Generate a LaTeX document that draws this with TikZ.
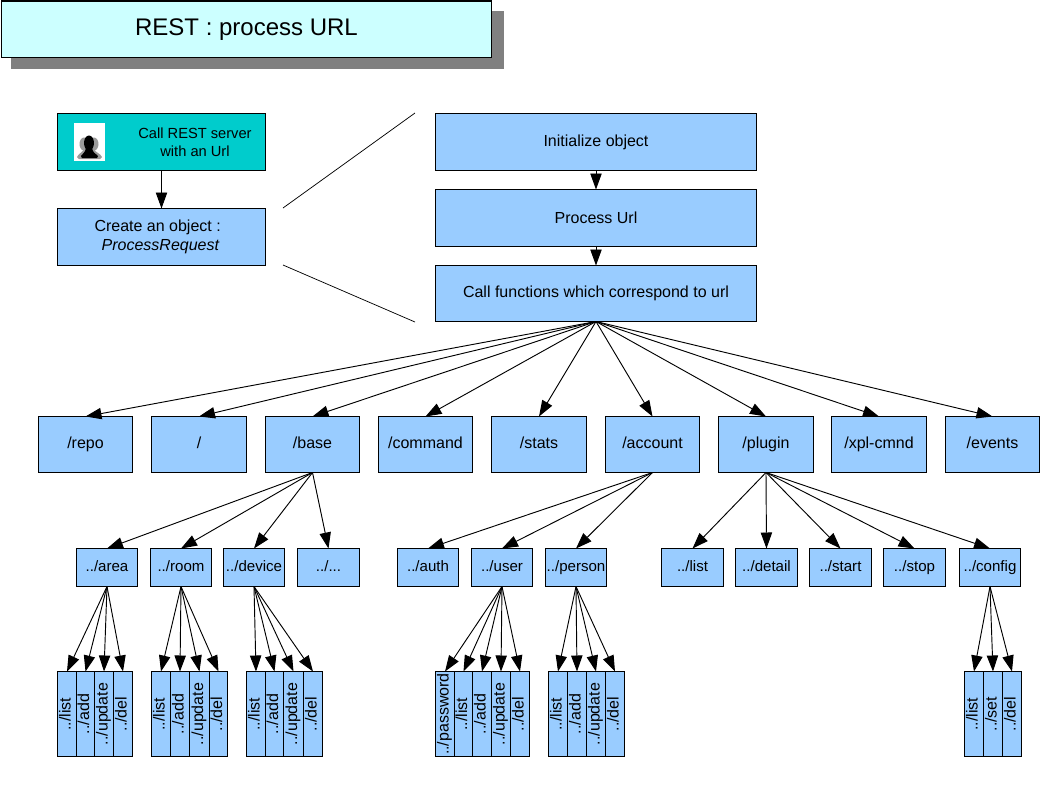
\documentclass[tikz,border=0pt]{standalone}
\usepackage{fontspec}
\setmainfont{Liberation Sans}
\usetikzlibrary{arrows.meta}
\definecolor{boxblue}{HTML}{99CCFF}
\definecolor{boxteal}{HTML}{00CCCC}
\definecolor{boxcyan}{HTML}{CCFFFF}
\definecolor{shadowgray}{HTML}{808080}
\tikzset{
  x=0.75pt,y=-0.75pt,
  plainbox/.style={draw=black,line width=0.8pt,fill=boxblue,inner sep=0pt,outer sep=0pt,align=center,font=\fontsize{12}{14}\selectfont},
  smalltext/.style={font=\fontsize{11.3}{13.5}\selectfont},
  conn/.style={draw=black,line width=0.7pt,-{Triangle[length=12pt,width=8.5pt]}},
  guide/.style={draw=black,line width=0.55pt},
}
% \rbox{name}{x1}{y1}{x2}{y2}{style}{text}
\newcommand{\rbox}[7]{\node[plainbox,#6,minimum width={(#4-#2-1)*0.75pt},minimum height={(#5-#3)*0.75pt}] (#1) at ({(#2+#4)/2},{(#3+#5)/2+0.5}) {#7};}
\newcommand{\vcell}[4]{\rbox{#1}{#2}{671}{#3}{756}{}{\rotatebox{90}{\strut #4}}}
\newcommand{\subbox}[4]{\rbox{#1}{#2}{548}{#3}{586}{smalltext}{\raisebox{-0.5pt}{\strut #4}}}
\newcommand{\topbox}[4]{\rbox{#1}{#2}{416}{#3}{472}{}{\raisebox{-0.6pt}{\strut #4}}}
\begin{document}
\begin{tikzpicture}
\useasboundingbox (0,0) rectangle (1058,794);
% title
\fill[shadowgray] (11,11) rectangle (504,69);
\rbox{title}{1}{0.5}{492}{57}{fill=boxcyan,font=\fontsize{18}{21}\selectfont}{\raisebox{-1.5pt}{REST : process URL}}
% left
\rbox{call}{57}{113}{266}{170}{fill=boxteal}{}
\node[inner sep=0pt,align=center,font=\fontsize{11}{13.2}\selectfont] (calltext) at (195,142) {Call REST server\\with an Url};
\fill[white] (74,123) rectangle (105,161);
\fill[shadowgray!80] (84,144) ellipse (4.5 and 6.5);
\fill[shadowgray!80] (94,144) ellipse (4.5 and 6.5);
\fill[shadowgray!80] (77,157) .. controls (79,153) and (82,153) .. (84,149) -- (94,149) .. controls (96,153) and (100,153) .. (102,157) -- (100,159) -- (79,159) -- cycle;
\fill[black] (89,143) ellipse (5 and 7.5);
\fill[black] (81,156) .. controls (83,153) and (85,153) .. (86,148) -- (92,148) .. controls (93,153) and (95,153) .. (98,156) -- (97,158) -- (82,158) -- cycle;
\rbox{create}{57}{208}{266}{265}{}{\hspace*{-5.75pt}Create an object :\\\hspace*{-1.25pt}\textit{ProcessRequest}}
\draw[conn] (call) -- (create);
% zoom lines
\coordinate (zoomAa) at (283,208);
\coordinate (zoomAb) at (415,113);
\coordinate (zoomBa) at (283,265);
\coordinate (zoomBb) at (415,322);
\draw[guide] (zoomAa) -- (zoomAb);
\draw[guide] (zoomBa) -- (zoomBb);
% right
\rbox{init}{435}{113}{757}{170}{}{Initialize object}
\rbox{proc}{435}{189}{757}{246}{}{Process Url}
\rbox{func}{435}{265}{757}{321}{}{Call functions which correspond to url}
\draw[conn] (init) -- (proc);
\draw[conn] (proc) -- (func);
% top row
\topbox{repo}{38}{133}{/repo}
\topbox{root}{151}{247}{/}
\topbox{base}{265}{360}{/base}
\topbox{command}{378}{473}{/command}
\topbox{stats}{491}{587}{/stats}
\topbox{account}{605}{700}{/account}
\topbox{plugin}{718}{814}{/plugin}
\topbox{xpl}{831}{927}{/xpl-cmnd}
\topbox{events}{945}{1040}{/events}
\foreach \t in {repo,root,base,command,stats,account,plugin,xpl,events}
  \draw[conn] (func.south) -- (\t.north);
% sub row
\subbox{area}{76}{138}{../area}
\subbox{room}{150}{212}{../room}
\subbox{device}{223}{285}{../device}
\subbox{dots}{297}{360}{../...}
\subbox{auth}{397}{459}{../auth}
\subbox{user}{471}{533}{../user}
\subbox{person}{545}{607}{../person}
\subbox{plist}{661}{724}{../list}
\subbox{detail}{735}{798}{../detail}
\subbox{start}{809}{872}{../start}
\subbox{stop}{883}{946}{../stop}
\subbox{config}{959}{1021}{../config}
\foreach \t in {area,room,device,dots}
  \draw[conn] (base.south) -- (\t.north);
\foreach \t in {auth,user,person}
  \draw[conn] (account.south) -- (\t.north);
\foreach \t in {plist,detail,start,stop,config}
  \draw[conn] (plugin.south) -- (\t.north);
% cells: area
\vcell{al}{57}{77}{../list}
\vcell{aa}{76}{95}{../add}
\vcell{au}{94}{114}{../update}
\vcell{ad}{113}{133}{../del}
% room
\vcell{rl}{151}{171}{../list}
\vcell{ra}{170}{190}{../add}
\vcell{ru}{189}{210}{../update}
\vcell{rd}{209}{228}{../del}
% device
\vcell{dl}{246}{266}{../list}
\vcell{da}{265}{284}{../add}
\vcell{du}{283}{304}{../update}
\vcell{dd}{303}{323}{../del}
% user
\vcell{up}{435}{455}{../password}
\vcell{ul}{454}{473}{../list}
\vcell{ua}{472}{492}{../add}
\vcell{uu}{491}{511}{../update}
\vcell{ud}{510}{530}{../del}
% person
\vcell{pl}{548}{568}{../list}
\vcell{pa}{567}{587}{../add}
\vcell{pu}{586}{606}{../update}
\vcell{pd}{605}{625}{../del}
% config
\vcell{cl}{964}{984}{../list}
\vcell{cs}{983}{1003}{../set}
\vcell{cd}{1002}{1022}{../del}
\foreach \t in {al,aa,au,ad} \draw[conn] (area.south) -- (\t.north);
\foreach \t in {rl,ra,ru,rd} \draw[conn] (room.south) -- (\t.north);
\foreach \t in {dl,da,du,dd} \draw[conn] (device.south) -- (\t.north);
\foreach \t in {up,ul,ua,uu,ud} \draw[conn] (user.south) -- (\t.north);
\foreach \t in {pl,pa,pu,pd} \draw[conn] (person.south) -- (\t.north);
\foreach \t in {cl,cs,cd} \draw[conn] (config.south) -- (\t.north);
\end{tikzpicture}
\end{document}
